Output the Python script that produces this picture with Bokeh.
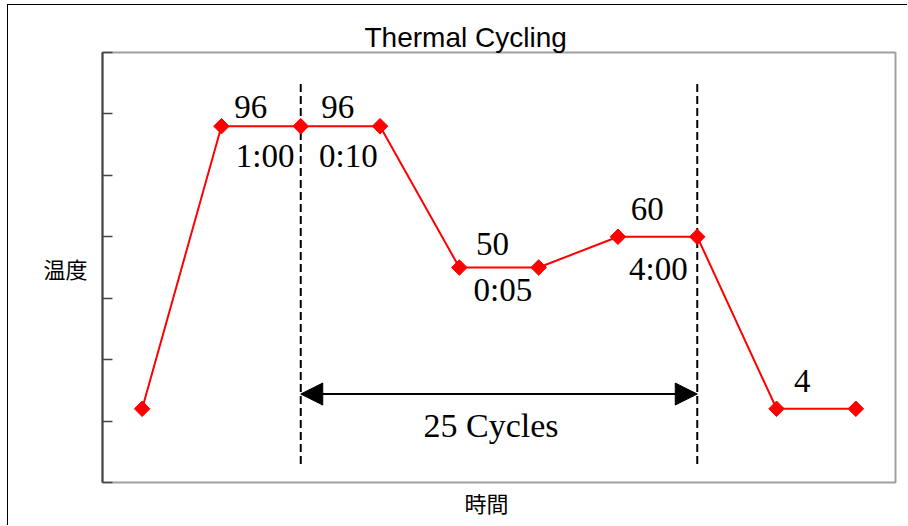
from bokeh.plotting import figure
from bokeh.models import Range1d, Arrow, NormalHead, FixedTicker, Title
from bokeh.embed import file_html
from bokeh.resources import INLINE
from bokeh.core.properties import value

# ---- data ----
steps = [1, 2, 3, 4, 5, 6, 7, 8, 9, 10]
temps = [4, 96, 96, 96, 50, 50, 60, 60, 4, 4]

temp_labels = ["96", "96", "50", "60", "4"]
temp_label_x = [2.16, 3.26, 5.21, 7.16, 9.22]
temp_label_y = [102.4, 102.4, 57.8, 69.2, 13.0]

time_labels = ["1:00", "0:10", "0:05", "4:00"]
time_label_x = [2.18, 3.23, 5.18, 7.14]
time_label_y = [86.4, 86.4, 42.6, 49.4]

cycle_bounds = [3, 8]
cycle_arrow_y = 8.8
cycle_text = "25 Cycles"
cycle_text_x = 5.4
cycle_text_y = -1.3
dash_bottom = -14
dash_top = 110

y_ticks = [-20, 0, 20, 40, 60, 80, 100, 120]

title_text = "Thermal Cycling"
x_label = "時間"
y_label = "温度"

# ---- figure ----
p = figure(width=900, height=521, output_backend="svg", toolbar_location=None,
           x_range=Range1d(0.5, 10.5), y_range=Range1d(-20, 120),
           min_border_left=94, min_border_right=13, min_border_top=47, min_border_bottom=44,
           background_fill_color="white", border_fill_color="white",
           styles={"margin-left": "7px", "margin-top": "4px",
                   "border-left": "1px solid black", "border-top": "1px solid black"})

p.grid.visible = False
p.outline_line_color = "#a0a0a0"
p.outline_line_width = 2
p.xaxis.visible = False

p.yaxis.ticker = FixedTicker(ticks=y_ticks)
p.yaxis.axis_line_color = "#444444"
p.yaxis.axis_line_width = 2
p.yaxis.major_tick_line_color = "#444444"
p.yaxis.major_tick_line_width = 1.5
p.yaxis.major_tick_in = 10
p.yaxis.major_tick_out = 0
p.yaxis.minor_tick_line_color = None
p.yaxis.major_label_overrides = {t: "" for t in y_ticks}
p.yaxis.major_label_text_color = None
p.yaxis.major_label_standoff = 0
p.yaxis.axis_label = y_label
p.yaxis.axis_label_orientation = "horizontal"
p.yaxis.axis_label_text_font = "Noto Sans CJK JP"
p.yaxis.axis_label_text_font_size = "22px"
p.yaxis.axis_label_text_font_style = "normal"
p.yaxis.axis_label_text_color = "black"
p.yaxis.axis_label_standoff = 15

# cycle boundaries
p.segment(x0=cycle_bounds, y0=[dash_bottom] * 2, x1=cycle_bounds, y1=[dash_top] * 2,
          line_color="black", line_width=2, line_dash="8 4")

# temperature profile
p.line(steps, temps, line_color="red", line_width=2)
p.scatter(steps, temps, marker="square", size=11, angle=0.785398, fill_color="red",
          line_color="red")

# arrow
p.add_layout(Arrow(start=NormalHead(size=22, fill_color="black", line_color="black"),
                   end=NormalHead(size=22, fill_color="black", line_color="black"),
                   x_start=cycle_bounds[0], y_start=cycle_arrow_y,
                   x_end=cycle_bounds[1], y_end=cycle_arrow_y,
                   line_color="black", line_width=2))

serif = value("Liberation Serif")
p.text(x=temp_label_x, y=temp_label_y, text=temp_labels, text_font=serif,
       text_font_size="33px", text_align="left", text_baseline="alphabetic", text_color="black")
p.text(x=time_label_x, y=time_label_y, text=time_labels, text_font=serif,
       text_font_size="33px", text_align="left", text_baseline="alphabetic", text_color="black")
p.text(x=[cycle_text_x], y=[cycle_text_y], text=[cycle_text], text_font=serif,
       text_font_size="34px", text_align="center", text_baseline="alphabetic", text_color="black")

# title and x label
p.add_layout(Title(text=title_text, align="left", offset=262, standoff=0,
                   text_font="Liberation Sans", text_font_size="28px",
                   text_font_style="normal", text_color="black"), "above")
p.add_layout(Title(text=x_label, align="left", offset=362, standoff=3,
                   text_font="Noto Sans CJK JP", text_font_size="22px",
                   text_font_style="normal", text_color="black"), "below")

open("out.html", "w").write(file_html(p, INLINE))
